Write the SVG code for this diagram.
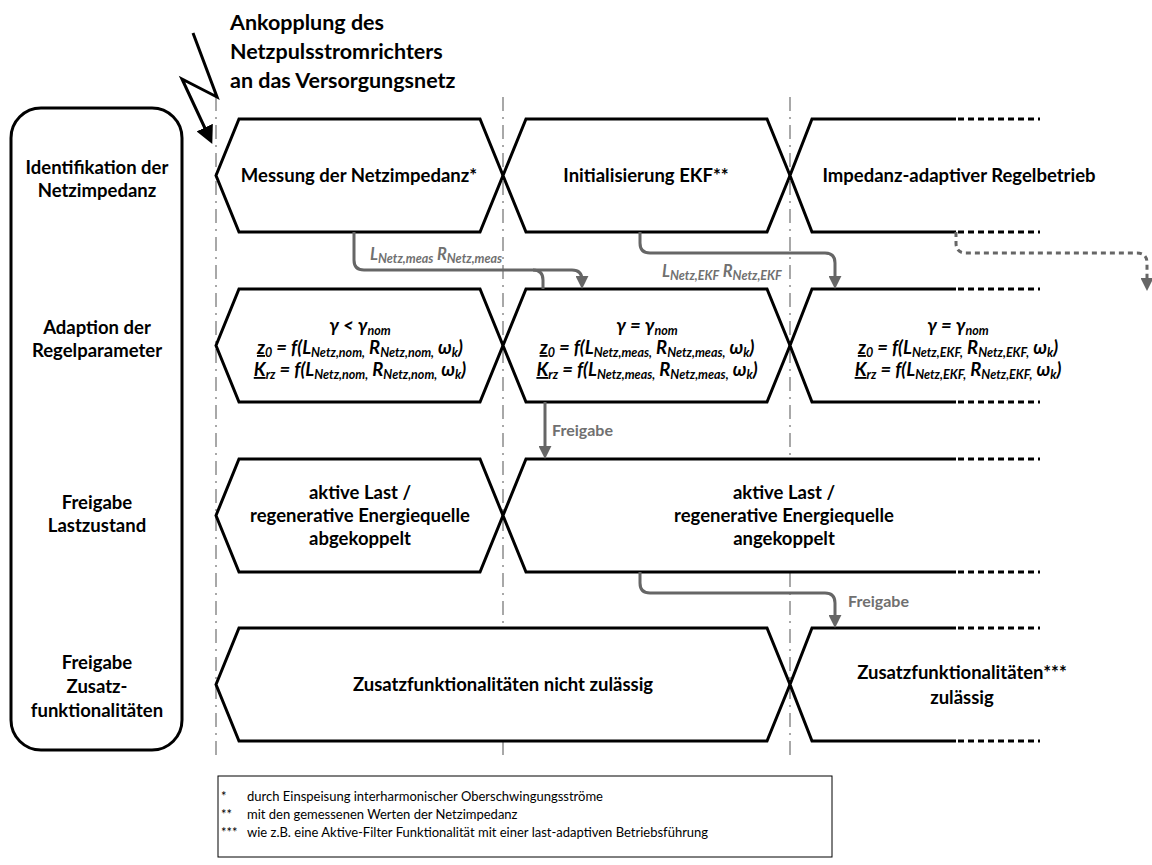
<svg xmlns="http://www.w3.org/2000/svg" width="1152" height="865" viewBox="0 0 1152 865">
<defs>
<style>
.box{fill:#fff;stroke:#000;stroke-width:3;stroke-linejoin:miter}
.fillw{fill:#fff;stroke:none}
.open{fill:none;stroke:#000;stroke-width:3;stroke-linejoin:miter}
.dots{fill:none;stroke:#000;stroke-width:3;stroke-dasharray:6 4}
.vline{stroke:#8c8c8c;stroke-width:1.5;stroke-dasharray:14 6 2 6;fill:none}
.conn{fill:none;stroke:#666;stroke-width:3}
.connd{fill:none;stroke:#666;stroke-width:3;stroke-dasharray:5 4}
text{font-family:Lato,"Liberation Sans",sans-serif;font-weight:bold;fill:#000}
.t{font-size:18.5px;text-anchor:middle}
.lab{font-size:18.5px;text-anchor:middle}
.title{font-size:21.5px}
.f{font-size:18.5px;font-style:italic;text-anchor:middle}
.s{font-size:12.5px}
.cl{fill:#707070;font-size:16px}
.cli{fill:#707070;font-size:16.5px;font-style:italic}
.fn{font-weight:normal;font-size:13px}
</style>
<marker id="ag" viewBox="0 0 10 10" refX="7" refY="5" markerWidth="13" markerHeight="13" markerUnits="userSpaceOnUse" orient="auto"><path d="M0,0 L10,5 L0,10 z" fill="#666"/></marker>
<marker id="ab" viewBox="0 0 10 10" refX="7" refY="5" markerWidth="18" markerHeight="18" markerUnits="userSpaceOnUse" orient="auto"><path d="M0,0 L10,5 L0,10 z" fill="#000"/></marker>
</defs>
<rect width="1152" height="865" fill="#fff"/>

<g id="gridlines">
<line class="vline" x1="216" y1="97" x2="216" y2="760"/>
<line class="vline" x1="503" y1="97" x2="503" y2="760"/>
<line class="vline" x1="790" y1="97" x2="790" y2="760"/>
</g>

<g id="title">
<text class="title" x="230" y="30">Ankopplung des</text>
<text class="title" x="230" y="59">Netzpulsstromrichters</text>
<text class="title" x="230" y="88">an das Versorgungsnetz</text>
<path d="M193,33 L217,97 L182,79 L210,139" fill="none" stroke="#000" stroke-width="3" stroke-linejoin="miter" marker-end="url(#ab)"/>
</g>

<g id="lanes">
<rect x="11" y="108" width="171" height="642" rx="30" ry="30" fill="#fff" stroke="#000" stroke-width="3"/>
<text class="lab" x="97" y="174">Identifikation der</text>
<text class="lab" x="97" y="197">Netzimpedanz</text>
<text class="lab" x="97" y="334">Adaption der</text>
<text class="lab" x="97" y="357">Regelparameter</text>
<text class="lab" x="97" y="509">Freigabe</text>
<text class="lab" x="97" y="532">Lastzustand</text>
<text class="lab" x="97" y="669">Freigabe</text>
<text class="lab" x="97" y="693">Zusatz-</text>
<text class="lab" x="97" y="717">funktionalitäten</text>
</g>

<g id="r1s1">
<path class="box" d="M216,175.5 L239,119 H480 L503,175.5 L480,232 H239 Z"/>
<text class="t" x="359" y="182">Messung der Netzimpedanz*</text>
</g>
<g id="r1s2">
<path class="box" d="M503,175.5 L526,119 H767 L790,175.5 L767,232 H526 Z"/>
<text class="t" x="646" y="182">Initialisierung EKF**</text>
</g>
<g id="r1s3">
<path class="fillw" d="M790,175.5 L812,119 H1040 V232 H812 Z"/>
<path class="open" d="M956,119 H812 L790,175.5 L812,232 H956"/>
<path class="dots" d="M958,119 H1040 M958,232 H1040"/>
<text class="t" x="959" y="182">Impedanz-adaptiver Regelbetrieb</text>
</g>

<g id="r2s1">
<path class="box" d="M216,345.5 L239,289 H480 L503,345.5 L480,402 H239 Z"/>
<text class="f"><tspan x="360" y="332">γ &lt; γ</tspan><tspan class="s" dy="3">nom</tspan><tspan x="360" y="354" text-decoration="underline">z</tspan><tspan class="s" dy="3">0</tspan><tspan dy="-3"> = f(L</tspan><tspan class="s" dy="3">Netz,nom,</tspan><tspan dy="-3"> R</tspan><tspan class="s" dy="3">Netz,nom,</tspan><tspan dy="-3"> ω</tspan><tspan class="s" dy="3">k</tspan><tspan dy="-3">)</tspan><tspan x="360" y="376" text-decoration="underline">K</tspan><tspan class="s" dy="3">rz</tspan><tspan dy="-3"> = f(L</tspan><tspan class="s" dy="3">Netz,nom,</tspan><tspan dy="-3"> R</tspan><tspan class="s" dy="3">Netz,nom,</tspan><tspan dy="-3"> ω</tspan><tspan class="s" dy="3">k</tspan><tspan dy="-3">)</tspan></text>
</g>
<g id="r2s2">
<path class="box" d="M503,345.5 L526,289 H767 L790,345.5 L767,402 H526 Z"/>
<text class="f"><tspan x="647" y="332">γ = γ</tspan><tspan class="s" dy="3">nom</tspan><tspan x="647" y="354" text-decoration="underline">z</tspan><tspan class="s" dy="3">0</tspan><tspan dy="-3"> = f(L</tspan><tspan class="s" dy="3">Netz,meas,</tspan><tspan dy="-3"> R</tspan><tspan class="s" dy="3">Netz,meas,</tspan><tspan dy="-3"> ω</tspan><tspan class="s" dy="3">k</tspan><tspan dy="-3">)</tspan><tspan x="647" y="376" text-decoration="underline">K</tspan><tspan class="s" dy="3">rz</tspan><tspan dy="-3"> = f(L</tspan><tspan class="s" dy="3">Netz,meas,</tspan><tspan dy="-3"> R</tspan><tspan class="s" dy="3">Netz,meas,</tspan><tspan dy="-3"> ω</tspan><tspan class="s" dy="3">k</tspan><tspan dy="-3">)</tspan></text>
</g>
<g id="r2s3">
<path class="fillw" d="M790,345.5 L812,289 H1040 V402 H812 Z"/>
<path class="open" d="M956,289 H812 L790,345.5 L812,402 H956"/>
<path class="dots" d="M958,289 H1040 M958,402 H1040"/>
<text class="f"><tspan x="958" y="332">γ = γ</tspan><tspan class="s" dy="3">nom</tspan><tspan x="958" y="354" text-decoration="underline">z</tspan><tspan class="s" dy="3">0</tspan><tspan dy="-3"> = f(L</tspan><tspan class="s" dy="3">Netz,EKF,</tspan><tspan dy="-3"> R</tspan><tspan class="s" dy="3">Netz,EKF,</tspan><tspan dy="-3"> ω</tspan><tspan class="s" dy="3">k</tspan><tspan dy="-3">)</tspan><tspan x="958" y="376" text-decoration="underline">K</tspan><tspan class="s" dy="3">rz</tspan><tspan dy="-3"> = f(L</tspan><tspan class="s" dy="3">Netz,EKF,</tspan><tspan dy="-3"> R</tspan><tspan class="s" dy="3">Netz,EKF,</tspan><tspan dy="-3"> ω</tspan><tspan class="s" dy="3">k</tspan><tspan dy="-3">)</tspan></text>
</g>

<g id="r3s1">
<path class="box" d="M216,515.5 L239,459 H480 L503,515.5 L480,572 H239 Z"/>
<text class="t" x="360" y="499">aktive Last /</text>
<text class="t" x="360" y="522">regenerative Energiequelle</text>
<text class="t" x="360" y="545">abgekoppelt</text>
</g>
<g id="r3s2">
<path class="fillw" d="M503,515.5 L526,459 H1040 V572 H526 Z"/>
<path class="open" d="M956,459 H526 L503,515.5 L526,572 H956"/>
<path class="dots" d="M958,459 H1040 M958,572 H1040"/>
<text class="t" x="784" y="499">aktive Last /</text>
<text class="t" x="784" y="522">regenerative Energiequelle</text>
<text class="t" x="784" y="545">angekoppelt</text>
</g>

<g id="r4s1">
<path class="box" d="M216,684.5 L239,628 H767 L790,684.5 L767,741 H239 Z"/>
<text class="t" x="503" y="691">Zusatzfunktionalitäten nicht zulässig</text>
</g>
<g id="r4s2">
<path class="fillw" d="M790,684.5 L812,628 H1040 V741 H812 Z"/>
<path class="open" d="M956,628 H812 L790,684.5 L812,741 H956"/>
<path class="dots" d="M958,628 H1040 M958,741 H1040"/>
<text class="t" x="962" y="679">Zusatzfunktionalitäten***</text>
<text class="t" x="962" y="704">zulässig</text>
</g>

<g id="connectors">
<path class="conn" d="M354,232 V260 Q354,270 364,270 H572 Q582,270 582,280 V285" marker-end="url(#ag)"/>
<path class="conn" d="M533,270 Q543,270 543,280 V289"/>
<path class="conn" d="M640,232 V243 Q640,253 650,253 H825 Q835,253 835,263 V285" marker-end="url(#ag)"/>
<path class="connd" d="M956,232 V243 Q956,253 966,253 H1137 Q1147,253 1147,263 V287" marker-end="url(#ag)"/>
<path class="conn" d="M545,402 V455" marker-end="url(#ag)"/>
<path class="conn" d="M640,572 V583 Q640,593 650,593 H825 Q835,593 835,603 V624" marker-end="url(#ag)"/>
</g>

<g id="connector-labels">
<text class="cli" x="370" y="260">L<tspan class="s" dy="3">Netz,meas</tspan><tspan dy="-3"> R</tspan><tspan class="s" dy="3">Netz,meas</tspan></text>
<text class="cli" x="662" y="277">L<tspan class="s" dy="3">Netz,EKF</tspan><tspan dy="-3"> R</tspan><tspan class="s" dy="3">Netz,EKF</tspan></text>
<text class="cl" x="552" y="436">Freigabe</text>
<text class="cl" x="848" y="607">Freigabe</text>
</g>

<g id="footnotes">
<rect x="218" y="776" width="614" height="81" fill="#fff" stroke="#000" stroke-width="1"/>
<text class="fn" x="221" y="801">*</text>
<text class="fn" x="247" y="801">durch Einspeisung interharmonischer Oberschwingungsströme</text>
<text class="fn" x="221" y="819">**</text>
<text class="fn" x="247" y="819">mit den gemessenen Werten der Netzimpedanz</text>
<text class="fn" x="221" y="837">***</text>
<text class="fn" x="247" y="837">wie z.B. eine Aktive-Filter Funktionalität mit einer last-adaptiven Betriebsführung</text>
</g>
</svg>
